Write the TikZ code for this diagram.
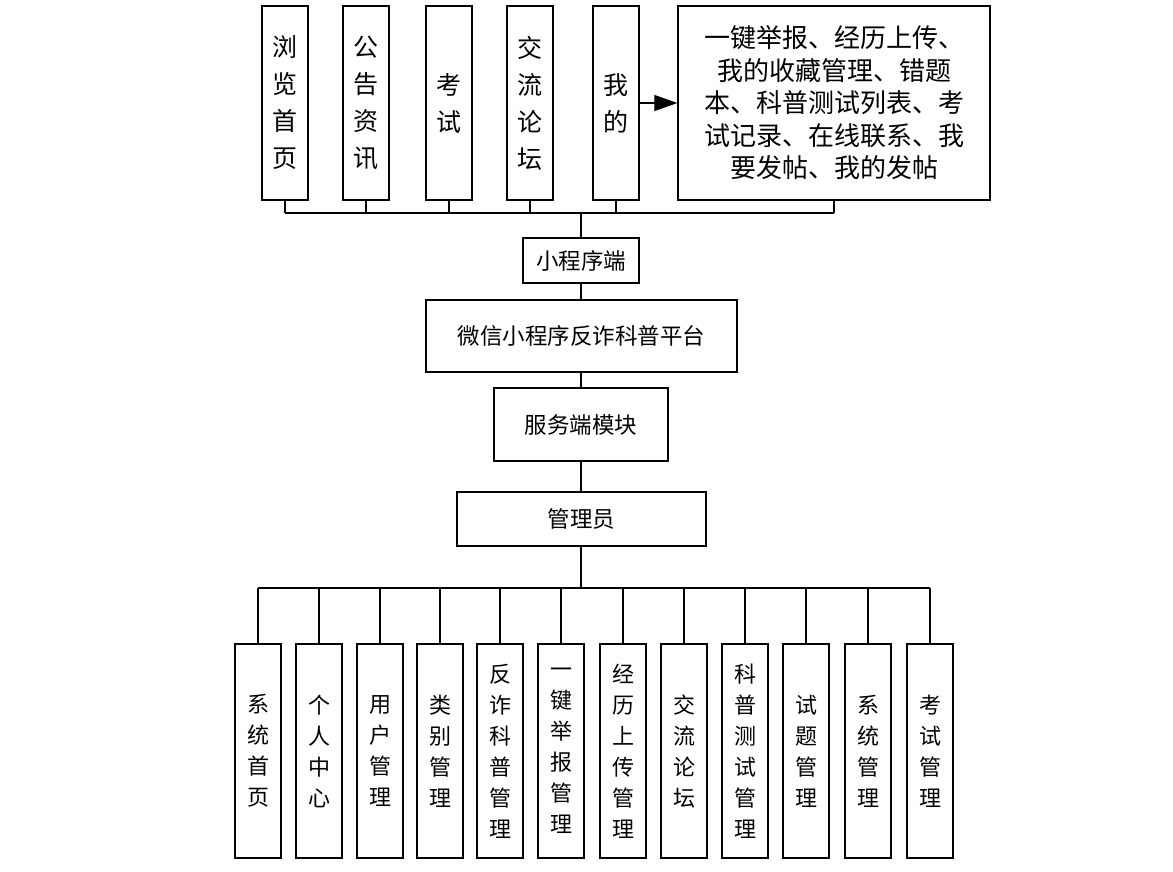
\documentclass[tikz,border=0pt]{standalone}
\usepackage{fontspec}
\newfontfamily\cjk{Noto Sans CJK SC}
\usetikzlibrary{arrows.meta}
\tikzset{
  box/.style={draw=black, line width=1.4pt, fill=white, inner sep=0pt, align=center, font=\cjk},
  topbox/.style={box, minimum width=46pt, minimum height=194pt, font=\cjk\fontsize{25}{37}\selectfont},
  botbox/.style={box, minimum width=46pt, minimum height=214pt, font=\cjk\fontsize{22}{31}\selectfont},
  midbox/.style={box, font=\cjk\fontsize{22.5}{27}\selectfont},
  conn/.style={draw=black, line width=1.3pt},
}
\begin{document}
\begin{tikzpicture}[x=1pt,y=-1pt]
\useasboundingbox (0,0) rectangle (1173,871);
% top row
\node[topbox] (t1) at (285,103) {浏\\览\\首\\页};
\node[topbox] (t2) at (366,103) {公\\告\\资\\讯};
\node[topbox] (t3) at (449,103) {考\\试};
\node[topbox] (t4) at (530,103) {交\\流\\论\\坛};
\node[topbox] (t5) at (616,103) {我\\的};
\node[box, minimum width=312pt, minimum height=194pt, font=\cjk\fontsize{26}{32.5}\selectfont] (t6) at (834,103)
  {一键举报、经历上传、\\我的收藏管理、错题\\本、科普测试列表、考\\试记录、在线联系、我\\要发帖、我的发帖};
\draw[conn, -{Triangle[length=23pt,width=16pt]}] (t5.east) -- (t6.west);
% middle chain
\node[midbox, minimum width=116pt, minimum height=45pt] (app) at (581,260.5) {小程序端};
\node[midbox, minimum width=311pt, minimum height=72pt] (plat) at (581.5,336) {微信小程序反诈科普平台};
\node[midbox, minimum width=174pt, minimum height=73pt] (srv) at (581,424.5) {服务端模块};
\node[midbox, minimum width=249pt, minimum height=54pt] (adm) at (581.5,519) {管理员};
% top bus
\coordinate (tbus) at (581,213);
\foreach \i in {1,...,6} { \draw[conn] (t\i.south) -- (t\i.south |- tbus); }
\draw[conn] (t1.south |- tbus) -- (t6.south |- tbus);
\draw[conn] (tbus) -- (app.north);
\draw[conn] (app.south) -- (app.south |- plat.north);
\draw[conn] (plat.south -| srv.north) -- (srv.north);
\draw[conn] (srv.south) -- (srv.south |- adm.north);
% bottom row
\node[botbox] (b1) at (258,751) {系\\统\\首\\页};
\node[botbox] (b2) at (319,751) {个\\人\\中\\心};
\node[botbox] (b3) at (380,751) {用\\户\\管\\理};
\node[botbox] (b4) at (440,751) {类\\别\\管\\理};
\node[botbox] (b5) at (500,751) {反\\诈\\科\\普\\管\\理};
\node[botbox] (b6) at (561,751) {一\\键\\举\\报\\管\\理};
\node[botbox] (b7) at (623,751) {经\\历\\上\\传\\管\\理};
\node[botbox] (b8) at (684,751) {交\\流\\论\\坛};
\node[botbox] (b9) at (745,751) {科\\普\\测\\试\\管\\理};
\node[botbox] (b10) at (806,751) {试\\题\\管\\理};
\node[botbox] (b11) at (868,751) {系\\统\\管\\理};
\node[botbox] (b12) at (930,751) {考\\试\\管\\理};
\coordinate (bbus) at (581,588);
\draw[conn] (adm.south -| bbus) -- (bbus);
\foreach \i in {1,...,12} { \draw[conn] (b\i.north) -- (b\i.north |- bbus); }
\draw[conn] (b1.north |- bbus) -- (b12.north |- bbus);
\end{tikzpicture}
\end{document}
